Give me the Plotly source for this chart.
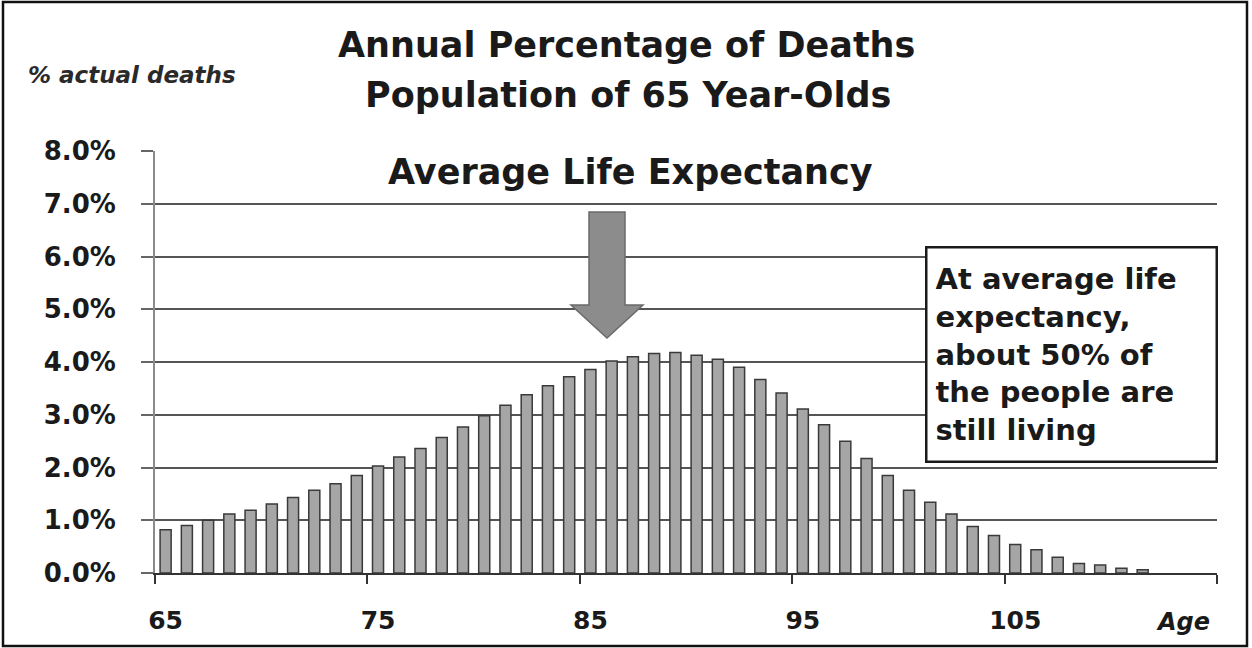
import plotly.graph_objects as go

ages = list(range(65, 112))
deaths_pct = [0.82, 0.90, 1.00, 1.12, 1.19, 1.31, 1.43, 1.57, 1.69, 1.85,
              2.03, 2.20, 2.36, 2.57, 2.77, 2.98, 3.18, 3.38, 3.55, 3.72,
              3.86, 4.02, 4.10, 4.16, 4.18, 4.13, 4.05, 3.90, 3.67, 3.41,
              3.11, 2.81, 2.50, 2.17, 1.85, 1.57, 1.34, 1.12, 0.88, 0.71,
              0.54, 0.44, 0.30, 0.18, 0.15, 0.09, 0.06]
x_tick_ages = [65, 75, 85, 95, 105]
x_tick_labels = ["65", "75", "85", "95", "105"]
y_ticks = [0, 1, 2, 3, 4, 5, 6, 7, 8]
y_tick_labels = [f"{v:.1f}%" for v in y_ticks]

W, H = 1252, 648
L, R, T, B = 155, 35, 151, 75
PW, PH = W - L - R, H - T - B


def xp(px):
    return (px - L) / PW


def yp(py):
    return (H - B - py) / PH


FONT = "DejaVu Sans"
INK = "#1a1a1a"

fig = go.Figure()
fig.add_trace(go.Bar(
    x=ages, y=deaths_pct, width=0.52,
    marker=dict(color="#a6a6a6", line=dict(color="#3a3a3a", width=1.5)),
    hoverinfo="x+y", showlegend=False,
))

fig.update_layout(
    width=W, height=H,
    margin=dict(l=L, r=R, t=T, b=B),
    paper_bgcolor="white", plot_bgcolor="white",
    font=dict(family=FONT, color=INK),
    xaxis=dict(
        range=[64.5, 114.5],
        tickvals=x_tick_ages, ticktext=x_tick_labels,
        ticks="", showgrid=False,
        showline=True, linecolor="#333333", linewidth=2,
        tickfont=dict(family=FONT, size=25, weight="bold", color=INK),
        ticklabelstandoff=24,
        minor=dict(tickvals=[a - 0.5 for a in x_tick_ages] + [114.5],
                   ticks="outside", ticklen=9, tickcolor="#333333",
                   tickwidth=2, showgrid=False),
        zeroline=False,
    ),
    yaxis=dict(
        range=[0, 8], tickvals=y_ticks, ticktext=y_tick_labels,
        showgrid=True, gridcolor="#555555", gridwidth=2,
        showline=True, linecolor="#8a8a8a", linewidth=2,
        ticks="outside", ticklen=12, tickcolor="#666666", tickwidth=2,
        tickfont=dict(family=FONT, size=26, weight="bold", color=INK),
        ticklabelstandoff=20,
        zeroline=False,
    ),
)

annots = [
    dict(text="Annual Percentage of Deaths", x=xp(626), y=yp(45), size=35),
    dict(text="Population of 65 Year-Olds", x=xp(628), y=yp(95), size=35),
    dict(text="Average Life Expectancy", x=xp(630), y=yp(172), size=35),
]
for a in annots:
    fig.add_annotation(text=a["text"], x=a["x"], y=a["y"], xref="paper", yref="paper",
                       showarrow=False, xanchor="center", yanchor="middle",
                       font=dict(family=FONT, size=a["size"], weight="bold", color=INK))

fig.add_annotation(text="% actual deaths", x=xp(132), y=yp(75), xref="paper", yref="paper",
                   showarrow=False, xanchor="center", yanchor="middle",
                   font=dict(family=FONT, size=23, weight="bold", style="italic", color="#2a2a2a"))
fig.add_annotation(text="Age", x=xp(1183), y=yp(622), xref="paper", yref="paper",
                   showarrow=False, xanchor="center", yanchor="middle",
                   font=dict(family=FONT, size=24, weight="bold", style="italic", color=INK))

fig.add_annotation(
    text="At average life<br>expectancy,<br>about 50% of<br>the people are<br>still living",
    x=xp(1071), y=yp(354), xref="paper", yref="paper",
    showarrow=False, xanchor="center", yanchor="middle",
    align="left", valign="middle", width=272, height=196,
    bgcolor="white", bordercolor="#1a1a1a", borderwidth=2.5, borderpad=8,
    font=dict(family=FONT, size=29, weight="bold", color=INK),
)

# block arrow
pts = [(589, 212), (625, 212), (625, 305), (643, 305), (607, 338), (571, 305), (589, 305)]
path = "M " + " L ".join(f"{xp(a):.5f},{yp(b):.5f}" for a, b in pts) + " Z"
fig.add_shape(type="path", path=path, xref="paper", yref="paper",
              fillcolor="#8c8c8c", line=dict(color="#6a6a6a", width=1.5))

# outer frame
fig.add_shape(type="rect", xref="paper", yref="paper",
              x0=xp(3), x1=xp(1247), y0=yp(646), y1=yp(2),
              line=dict(color="#111111", width=2.5), fillcolor="rgba(0,0,0,0)")

fig.write_html("out.html", config={"displayModeBar": False},
               post_script="document.body.style.margin='0';document.body.style.overflow='hidden';")
